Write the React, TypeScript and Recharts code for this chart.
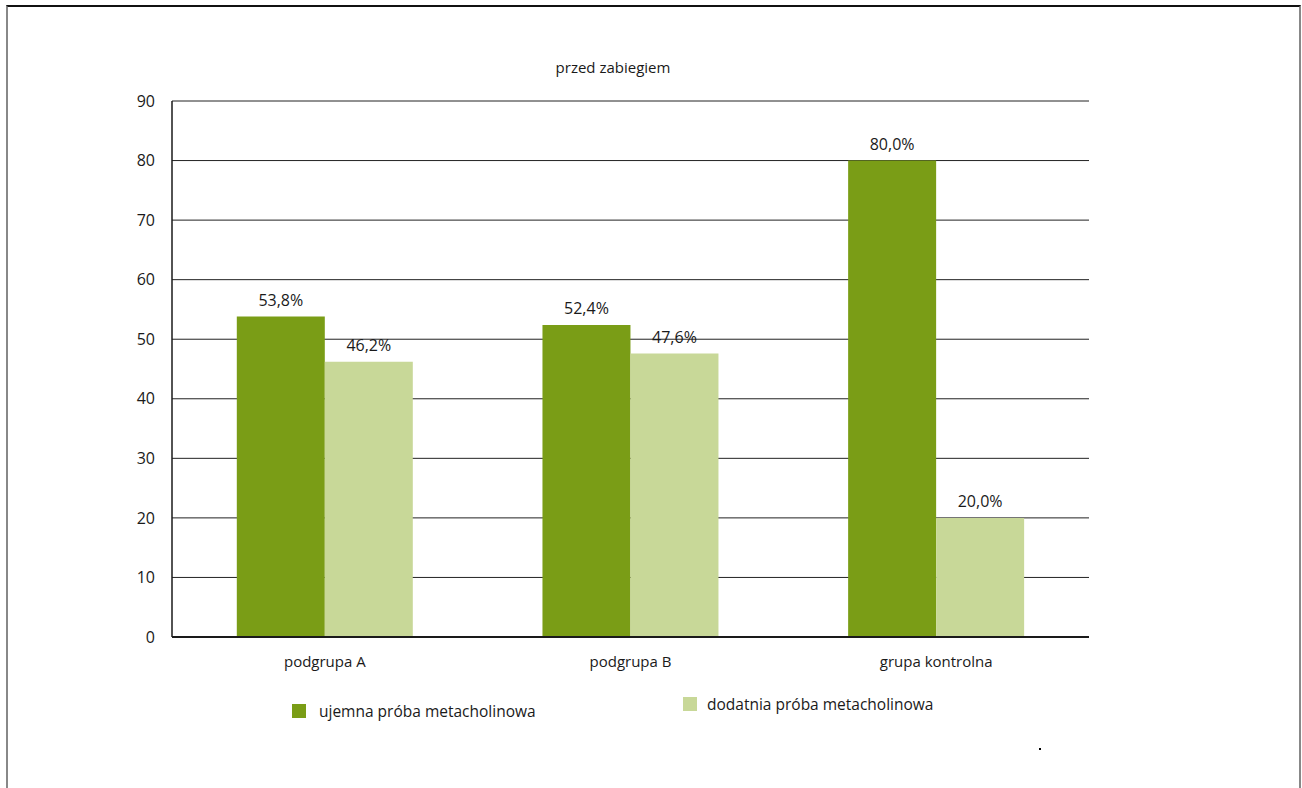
import React from 'react';
import { BarChart, Bar, XAxis, YAxis, CartesianGrid, LabelList } from 'recharts';

const categories = ['podgrupa A', 'podgrupa B', 'grupa kontrolna'];
const negativeValues = [53.8, 52.4, 80.0];
const positiveValues = [46.2, 47.6, 20.0];
const yTicks = [0, 10, 20, 30, 40, 50, 60, 70, 80, 90];
const seriesNames = ['ujemna próba metacholinowa', 'dodatnia próba metacholinowa'];
const seriesColors = ['#7a9d16', '#c8d898'];
const title = 'przed zabiegiem';

const data = categories.map((c, i) => ({ name: c, neg: negativeValues[i], pos: positiveValues[i] }));

const FONT = '"Open Sans", sans-serif';
const fmt = (v: any) => Number(v).toFixed(1).replace('.', ',') + '%';

export default function App() {
  return (
    <div style={{ position: 'absolute', left: 0, top: 0, width: 1302, height: 788, fontFamily: FONT, background: '#fff' }}>
      <div style={{ position: 'absolute', left: 6, top: 5, width: 1295, height: 783, boxSizing: 'border-box', borderTop: '2px solid #111', borderLeft: '2px solid #888', borderRight: '2px solid #888' }} />
      <div style={{ position: 'absolute', left: 513, width: 200, top: 57, textAlign: 'center', fontSize: 15, color: '#1a1a1a', lineHeight: '20px' }}>{title}</div>
      <div style={{ position: 'absolute', left: 0, top: 0 }}>
        <BarChart width={1302} height={788} data={data} margin={{ top: 101, right: 213, left: 112, bottom: 121 }} barCategoryGap="21.2%" barGap={0}>
          <CartesianGrid vertical={false} stroke="#222" strokeWidth={1} yAxisId="left" />
          <XAxis dataKey="name" height={30} tickLine={false} tickSize={0} tickMargin={19} axisLine={{ stroke: '#1a1a1a', strokeWidth: 2 }} tick={{ fill: '#1a1a1a', fontSize: 15, fontFamily: FONT }} interval={0} />
          <YAxis yAxisId="left" domain={[0, 90]} ticks={yTicks} width={60} tickLine={false} tickSize={0} tickMargin={17} axisLine={{ stroke: '#1a1a1a', strokeWidth: 1.5 }} tick={{ fill: '#1a1a1a', fontSize: 16, fontFamily: FONT }} interval={0} />
          <YAxis yAxisId="right" orientation="right" domain={[0, 90]} ticks={yTicks} width={0} tick={false} tickLine={false} axisLine={{ stroke: '#1a1a1a', strokeWidth: 1.5 }} />
          <Bar yAxisId="left" dataKey="neg" name={seriesNames[0]} fill={seriesColors[0]} isAnimationActive={false}>
            <LabelList dataKey="neg" position="top" offset={11} formatter={fmt} style={{ fill: '#1a1a1a', fontSize: 16, fontFamily: FONT }} />
          </Bar>
          <Bar yAxisId="left" dataKey="pos" name={seriesNames[1]} fill={seriesColors[1]} isAnimationActive={false}>
            <LabelList dataKey="pos" position="top" offset={11} formatter={fmt} style={{ fill: '#1a1a1a', fontSize: 16, fontFamily: FONT }} />
          </Bar>
        </BarChart>
      </div>
      <div style={{ position: 'absolute', left: 292, top: 704, display: 'flex', alignItems: 'center', fontSize: 15.5, color: '#1a1a1a' }}>
        <span style={{ display: 'inline-block', width: 14, height: 14, background: seriesColors[0], marginRight: 13 }} />
        <span style={{ lineHeight: '14px' }}>{seriesNames[0]}</span>
      </div>
      <div style={{ position: 'absolute', left: 683, top: 697, display: 'flex', alignItems: 'center', fontSize: 15.5, color: '#1a1a1a' }}>
        <span style={{ display: 'inline-block', width: 14, height: 14, background: seriesColors[1], marginRight: 10 }} />
        <span style={{ lineHeight: '14px' }}>{seriesNames[1]}</span>
      </div>
      <div style={{ position: 'absolute', left: 1039, top: 748, width: 2, height: 2, background: '#000' }} />
    </div>
  );
}
